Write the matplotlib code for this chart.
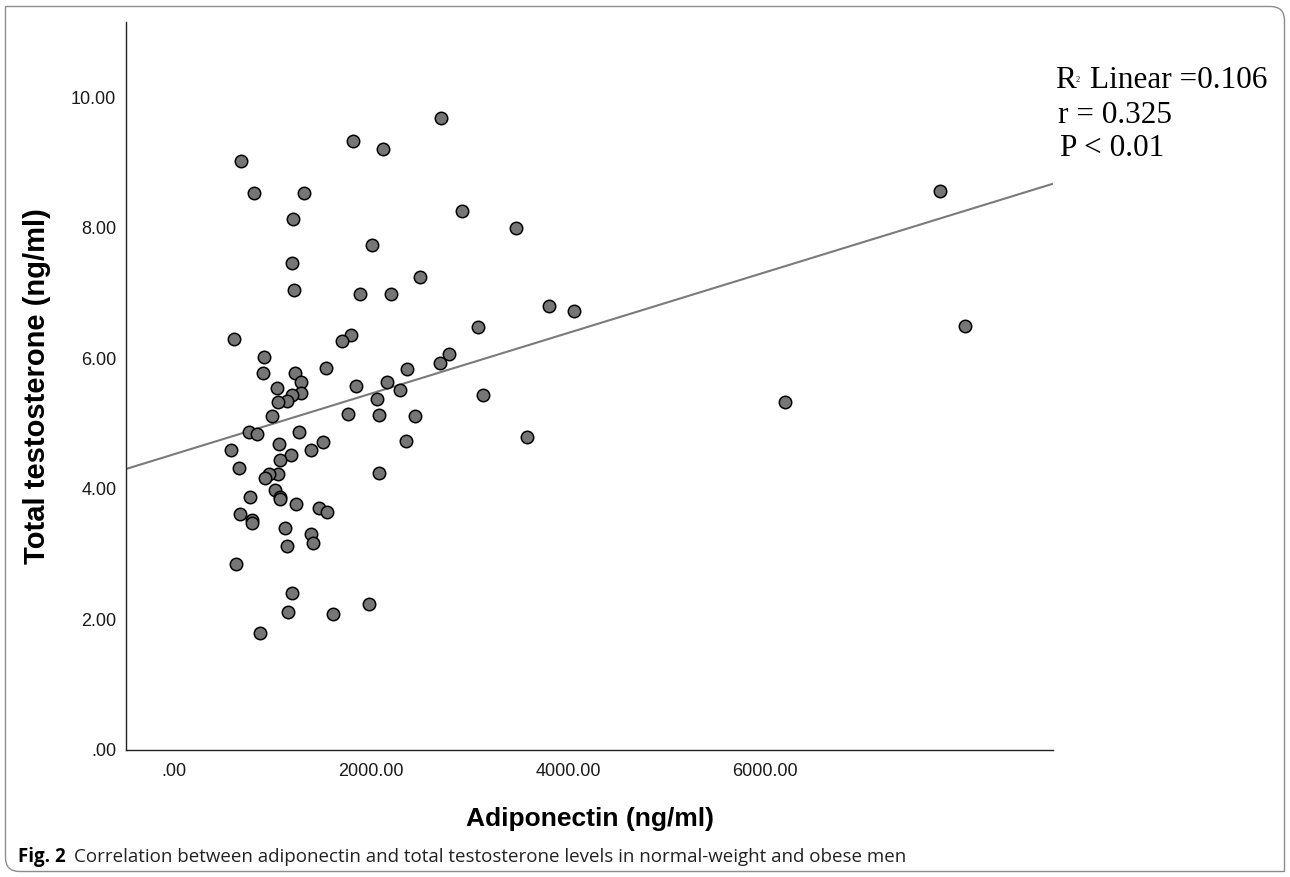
import numpy as np
import matplotlib
matplotlib.use("Agg")
import matplotlib.pyplot as plt
from matplotlib.path import Path
from matplotlib.patches import PathPatch
from matplotlib.transforms import IdentityTransform
from matplotlib.ticker import FuncFormatter, FixedLocator

# ---- data ----
adiponectin = [2711, 1817, 2119, 683, 809, 1313, 7776, 1208, 2927, 3472,
               2007, 1195, 2500, 1215, 1885, 2200, 3807, 4061, 3083, 8030,
               602, 1800, 1706, 907, 2789, 2700, 1546, 2362, 900, 1228,
               1286, 2165, 1841, 1043, 2289, 3132, 1286, 1198, 2063, 1150,
               1056, 6203, 1766, 2078, 2447, 995, 764, 843, 1269, 3581,
               2352, 1508, 1069, 576, 1391, 1181, 1073, 660, 2078, 1053,
               964, 924, 1028, 1076, 772, 1079, 1239, 1472, 1550, 663,
               789, 789, 1127, 1388, 1147, 1414, 626, 1201, 1157, 1983,
               1612, 873]
testosterone = [9.68, 9.32, 9.20, 9.02, 8.53, 8.53, 8.56, 8.14, 8.25, 7.99,
                7.73, 7.46, 7.24, 7.04, 6.98, 6.98, 6.80, 6.72, 6.48, 6.49,
                6.29, 6.36, 6.26, 6.02, 6.06, 5.93, 5.85, 5.83, 5.78, 5.77,
                5.63, 5.63, 5.58, 5.55, 5.52, 5.44, 5.47, 5.44, 5.38, 5.35,
                5.33, 5.33, 5.15, 5.13, 5.12, 5.11, 4.87, 4.84, 4.87, 4.80,
                4.74, 4.72, 4.69, 4.60, 4.60, 4.52, 4.44, 4.32, 4.24, 4.23,
                4.22, 4.16, 3.98, 3.88, 3.87, 3.84, 3.77, 3.70, 3.64, 3.61,
                3.52, 3.47, 3.40, 3.31, 3.13, 3.17, 2.85, 2.40, 2.12, 2.23,
                2.08, 1.79]
x_ticks = [0, 2000, 4000, 6000]
y_ticks = [0, 2, 4, 6, 8, 10]
annot_lines = ["Linear =0.106", "r = 0.325", "P < 0.01"]
x_label = "Adiponectin (ng/ml)"
y_label = "Total testosterone (ng/ml)"
caption_bold = "Fig. 2"
caption_text = "Correlation between adiponectin and total testosterone levels in normal-weight and obese men"

W, H = 1290, 877
fig = plt.figure(figsize=(W / 100, H / 100), dpi=100)

def fx(px):
    return px / W

def fy(py):
    return 1 - py / H

ax_l, ax_r, ax_t, ax_b = 126, 1053, 22, 750
ax = fig.add_axes([fx(ax_l), fy(ax_b), (ax_r - ax_l) / W, (ax_b - ax_t) / H])

x = np.array(adiponectin, dtype=float)
y = np.array(testosterone, dtype=float)

xmin, xmax = -490, 8925
ymin, ymax = 0, 11.15
ax.set_xlim(xmin, xmax)
ax.set_ylim(ymin, ymax)

# regression line
slope, intercept = np.polyfit(x, y, 1)
xx = np.array([xmin, xmax])
ax.plot(xx, slope * xx + intercept, color="#7a7a7a", lw=1.5, zorder=2, solid_capstyle="butt")

ax.scatter(x, y, s=80, facecolor="#767676", edgecolor="black", linewidth=1.1, zorder=3)

for s in ["top", "right"]:
    ax.spines[s].set_visible(False)
for s in ["left", "bottom"]:
    ax.spines[s].set_color("#222222")
    ax.spines[s].set_linewidth(1.0)

def fmt(v, pos):
    s = f"{v:.2f}"
    if s.startswith("0."):
        s = s[1:]
    return s

ax.xaxis.set_major_locator(FixedLocator(x_ticks))
ax.yaxis.set_major_locator(FixedLocator(y_ticks))
ax.xaxis.set_major_formatter(FuncFormatter(fmt))
ax.yaxis.set_major_formatter(FuncFormatter(fmt))
ax.tick_params(axis="both", length=0, labelsize=13, colors="#1a1a1a")
ax.tick_params(axis="x", pad=9)
ax.tick_params(axis="y", pad=7)
for lab in ax.get_xticklabels() + ax.get_yticklabels():
    lab.set_family("Liberation Sans")

ax.set_xlabel(x_label, fontsize=19, fontweight="bold", family="Liberation Sans", va="center")
ax.xaxis.set_label_coords(0.5, (ax_b - 819) / (ax_b - ax_t))
ax.set_ylabel(y_label, fontsize=21, fontweight="bold", family="Liberation Sans", va="center")
ax.yaxis.set_label_coords((37 - ax_l) / (ax_r - ax_l), 0.5)

# annotation (outside axes, right)
serif = "Liberation Serif"
fs_a = 22.5
fig.text(fx(1055), fy(88), "R", fontsize=fs_a, family=serif, va="baseline", ha="left")
fig.text(fx(1076), fy(82), "2", fontsize=6, family=serif, va="baseline", ha="left")
fig.text(fx(1090), fy(88), annot_lines[0], fontsize=fs_a, family=serif, va="baseline", ha="left")
fig.text(fx(1058), fy(123), annot_lines[1], fontsize=fs_a, family=serif, va="baseline", ha="left")
fig.text(fx(1060), fy(156), annot_lines[2], fontsize=fs_a, family=serif, va="baseline", ha="left")

# caption
fig.text(fx(18), fy(862), caption_bold, fontsize=13.5, fontweight="bold", family="Open Sans",
         va="baseline", ha="left")
fig.text(fx(74), fy(862), caption_text, fontsize=13.5, family="Open Sans",
         va="baseline", ha="left", color="#222222")

# outer border with rounded top-right and bottom-left corners (pixel coords)
L, R, T, B = 5.5, 1284.5, H - 6.5, 5.5
r = 14
verts = [(L, T), (R - r, T), (R, T), (R, T - r), (R, B), (L + r, B), (L, B), (L, B + r), (L, T), (L, T)]
codes = [Path.MOVETO, Path.LINETO, Path.CURVE3, Path.CURVE3, Path.LINETO, Path.LINETO,
         Path.CURVE3, Path.CURVE3, Path.LINETO, Path.CLOSEPOLY]
border = PathPatch(Path(verts, codes), transform=IdentityTransform(), fill=False,
                   edgecolor="#8c8c8c", lw=1.0)
fig.patches.append(border)

fig.savefig("out.png", dpi=100)
